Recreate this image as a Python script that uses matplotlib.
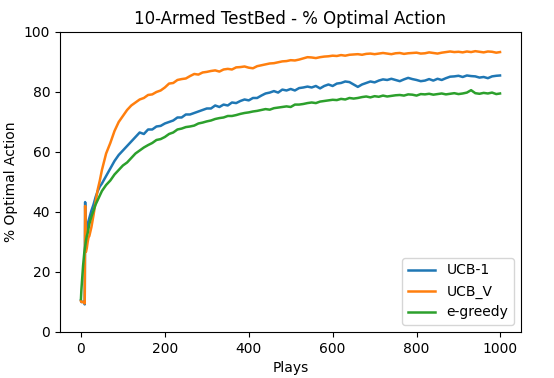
import matplotlib
matplotlib.use("Agg")
import matplotlib.pyplot as plt

plays = [0, 1, 2, 3, 4, 5, 6, 7, 8, 9, 10, 11, 12, 14, 16, 18, 20, 25, 30, 35,
         40, 45, 50, 60, 70, 80, 90, 100, 110, 120, 130, 140, 150, 160, 170,
         180, 190, 200, 210, 220, 230, 240, 250, 260, 270, 280, 290, 300, 310,
         320, 330, 340, 350, 360, 370, 380, 390, 400, 410, 420, 430, 440, 450,
         460, 470, 480, 490, 500, 510, 520, 530, 540, 550, 560, 570, 580, 590,
         600, 610, 620, 630, 640, 650, 660, 670, 680, 690, 700, 710, 720, 730,
         740, 750, 760, 770, 780, 790, 800, 810, 820, 830, 840, 850, 860, 870,
         880, 890, 900, 910, 920, 930, 940, 950, 960, 970, 980, 990, 999]

ucb1 = [10.5, 10, 10, 10, 10, 10, 10, 10, 10, 9.2, 43.3, 31, 33, 34.5, 36, 37,
        38, 40.5, 42.5, 45, 47, 48.5, 49.5, 52, 54.5, 57, 59, 60.5, 62, 63.5,
        65, 66.5, 66, 67.5, 67.5, 68.5, 68.7, 69.5, 70, 70.5, 71.5, 71.5, 72.5,
        72.5, 73, 73.5, 74, 74.5, 74.5, 75.5, 75, 75.8, 75.5, 76.5, 76.3, 77,
        77.5, 77.2, 78, 78, 78.8, 79.5, 79.8, 80.3, 79.8, 80.8, 80.5, 81, 80.5,
        81.3, 81.5, 81.8, 81.5, 82, 81.2, 82, 82.5, 82, 82.8, 83, 83.5, 83.3,
        82.5, 81.7, 82.5, 83, 83.5, 83.2, 83.8, 84.2, 84, 84.4, 84, 83.6, 84.2,
        84.7, 84.3, 84, 83.6, 83.8, 84.3, 83.8, 84.4, 84, 84.6, 85.1, 85.2,
        85.4, 85, 85.5, 85.3, 85.2, 84.8, 85, 84.6, 85.2, 85.4, 85.5]

ucb_v = [10.3, 10, 10, 10, 10, 10, 10, 10, 10, 9.5, 42, 27, 26.7, 28, 30,
         31.5, 32, 35, 39, 43.5, 47.5, 50.5, 54, 59.5, 63, 67, 70, 72, 74,
         75.5, 76.5, 77.5, 78, 79, 79.2, 80, 80.5, 81.5, 82.8, 83, 84, 84.3,
         84.5, 85.3, 86, 85.8, 86.5, 86.7, 87, 87.2, 86.8, 87.5, 87.7, 87.5,
         88.2, 88.3, 88.5, 88.1, 87.9, 88.6, 88.9, 89.2, 89.5, 89.6, 89.9,
         90.2, 90.3, 90.6, 90.5, 90.8, 91.2, 91.6, 91.5, 91.3, 91.6, 91.8,
         91.9, 92.1, 92, 92.3, 92.1, 92.4, 92.5, 92.6, 92.4, 92.7, 92.8, 92.6,
         92.8, 93, 92.8, 92.6, 92.9, 93, 92.7, 92.9, 93, 93.1, 92.8, 92.9,
         93.2, 93, 92.8, 93.1, 93.3, 93.5, 93.3, 93.4, 93.2, 93.5, 93.3, 93.6,
         93.4, 93.2, 93.5, 93.4, 93.1, 93.3]

egreedy = [11, 14, 16, 18, 20, 22, 23.5, 25, 26.5, 27.5, 28.5, 29.5, 30.5, 32,
           33, 34.5, 36, 38.5, 40.5, 42.5, 44, 45.5, 47, 49, 50.5, 52.5, 54,
           55.5, 56.5, 58, 59.5, 60.5, 61.5, 62.3, 63, 64, 64.3, 65, 66, 66.5,
           67.5, 67.8, 68.3, 68.5, 68.8, 69.5, 69.8, 70.2, 70.5, 71, 71.3,
           71.5, 72, 72, 72.3, 72.7, 73, 73.2, 73.5, 73.7, 74, 74.3, 74.1,
           74.6, 74.8, 75, 75.2, 75, 75.8, 75.8, 76, 76.3, 76.5, 76.3, 76.8,
           77, 77.2, 77.4, 77.3, 77.7, 77.5, 78, 77.8, 78, 78.3, 78.5, 78.2,
           78.6, 78.4, 78.8, 78.5, 78.7, 78.9, 79, 78.8, 79.2, 79.1, 78.8,
           79.3, 79.2, 79.4, 79.1, 79.3, 79.5, 79.2, 79.4, 79.6, 79.3, 79.5,
           79.8, 80.6, 79.6, 79.4, 79.7, 79.5, 79.8, 79.3, 79.5]

fig = plt.figure(figsize=(5.54, 3.78), dpi=100)
ax = fig.add_axes([0.1083, 0.1217, 0.8321, 0.7937])

ax.plot(plays, ucb1, label="UCB-1", lw=1.8)
ax.plot(plays, ucb_v, label="UCB_V", lw=1.8)
ax.plot(plays, egreedy, label="e-greedy", lw=1.8)

ax.set_ylim(0, 100)
ax.set_title("10-Armed TestBed - % Optimal Action")
ax.set_xlabel("Plays")
ax.set_ylabel("% Optimal Action")
ax.legend(loc="lower right")

fig.savefig("out.png", dpi=100)
